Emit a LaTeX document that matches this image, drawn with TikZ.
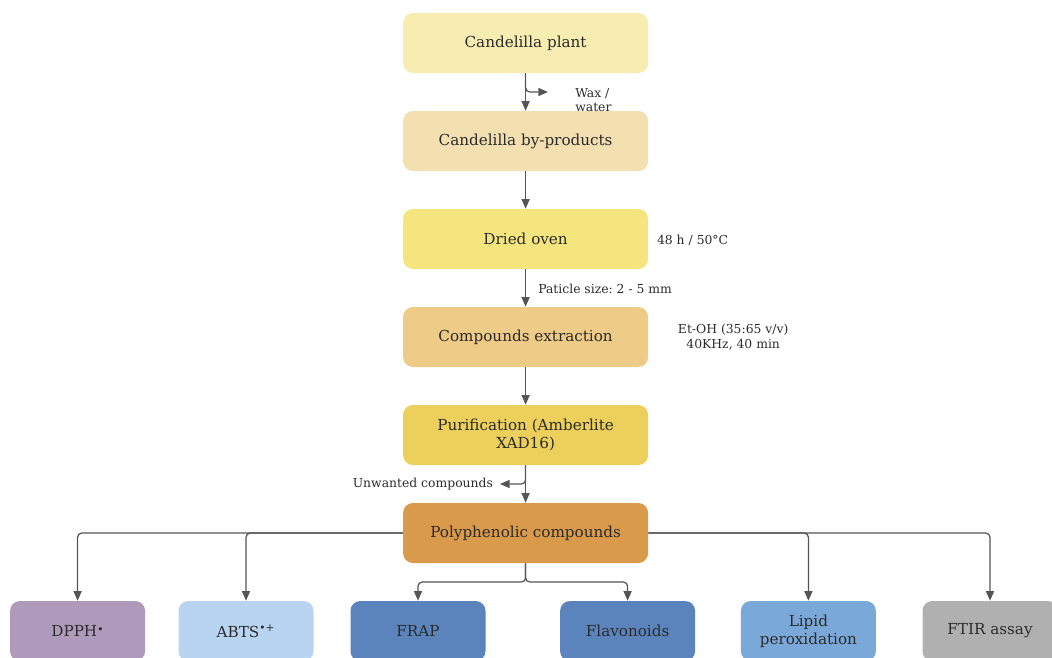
\documentclass[tikz,border=0pt]{standalone}
\usepackage{fontspec}
\setmainfont{DejaVu Serif}
\usepackage{tikz}
\usepackage{xcolor}
\usetikzlibrary{arrows.meta, positioning}
\frenchspacing

\definecolor{plantcol}{HTML}{F7EDB0}
\definecolor{bycol}{HTML}{F3DFB0}
\definecolor{ovencol}{HTML}{F5E57E}
\definecolor{extrcol}{HTML}{EECB86}
\definecolor{purcol}{HTML}{EDCF5C}
\definecolor{polycol}{HTML}{D99A4B}
\definecolor{dpphcol}{HTML}{B09ABB}
\definecolor{abtscol}{HTML}{B8D4F0}
\definecolor{frapcol}{HTML}{5B84BC}
\definecolor{lipidcol}{HTML}{7AA8D8}
\definecolor{ftircol}{HTML}{B0B0B0}
\definecolor{linecol}{HTML}{555555}
\definecolor{textcol}{HTML}{2B2B2B}

\begin{document}
\begin{tikzpicture}[
        >={Triangle[length=2.4mm,width=2mm]},
        % Style for the process boxes in the middle column
        stepbox/.style={rectangle, rounded corners=7pt, draw=none, text=textcol,
            minimum width=6.125cm, minimum height=1.5cm, align=center,
            font=\fontsize{10.8}{13}\selectfont},
        % Style for the assay boxes at the bottom
        assaybox/.style={stepbox, minimum width=3.375cm},
        % Style for the side notes
        note/.style={text=textcol, font=\fontsize{8.8}{10.5}\selectfont, inner sep=0pt},
        % Style for the connectors
        arr/.style={->, draw=linecol, line width=0.9pt, rounded corners=3pt}
    ]
        \useasboundingbox (0,0) rectangle (26.3,-16.425);

        % --- Main column ---
        \node[stepbox, fill=plantcol] (plant) at (13.14, -1.075) {Candelilla plant};
        \node[stepbox, fill=bycol]    (byprod) at (13.14, -3.525) {Candelilla by-products};
        \node[stepbox, fill=ovencol]  (oven) at (13.14, -5.975) {Dried oven};
        \node[stepbox, fill=extrcol]  (extract) at (13.14, -8.425) {Compounds extraction};
        \node[stepbox, fill=purcol]   (purif) at (13.14, -10.875) {Purification (Amberlite\\XAD16)};
        \node[stepbox, fill=polycol]  (poly) at (13.14, -13.325) {Polyphenolic compounds};

        % --- Assays ---
        \node[assaybox, fill=dpphcol]  (dpph) at (1.94, -15.775) {DPPH\raisebox{0.35ex}{\footnotesize\textbullet}};
        \node[assaybox, fill=abtscol]  (abts) at (6.15, -15.775) {ABTS\textsuperscript{\textbullet+}};
        \node[assaybox, fill=frapcol]  (frap) at (10.45, -15.775) {FRAP};
        \node[assaybox, fill=frapcol]  (flav) at (15.69, -15.775) {Flavonoids};
        \node[assaybox, fill=lipidcol] (lipid) at (20.21, -15.775) {Lipid\\peroxidation};
        \node[assaybox, fill=ftircol]  (ftir) at (24.75, -15.775) {FTIR assay};

        % --- Side notes ---
        \node[note, anchor=west, align=left] (wax) at (14.375, -2.5) {Wax /\\water};
        \node[note, anchor=west] (temp) at (16.42, -6.0) {48 h / 50°C};
        \node[note, anchor=west] (size) at (13.45, -7.225) {Paticle size: 2 - 5 mm};
        \node[note, align=center] (solv) at (18.33, -8.43) {Et-OH (35:65 v/v)\\40KHz, 40 min};
        \node[note, anchor=east] (unw) at (12.33, -12.1) {Unwanted compounds};

        % --- Branch points ---
        \coordinate (waxtip) at (13.7, -2.3);
        \coordinate (unwtip) at (12.5, -12.1);
        \coordinate (split) at (13.14, -14.55);

        % --- Main flow ---
        \draw[arr] (plant) -- (byprod);
        \draw[arr] (plant.south) |- (waxtip);
        \draw[arr] (byprod) -- (oven);
        \draw[arr] (oven) -- (extract);
        \draw[arr] (extract) -- (purif);
        \draw[arr] (purif) -- (poly);
        \draw[arr] (purif.south) |- (unwtip);

        % --- Assay branches ---
        \draw[arr] (poly.west) -| (dpph.north);
        \draw[arr] (poly.west) -| (abts.north);
        \draw[arr] (poly.east) -| (ftir.north);
        \draw[arr] (poly.east) -| (lipid.north);
        \draw[arr] (poly.south) -- (split) -| (frap.north);
        \draw[arr] (poly.south) -- (split) -| (flav.north);

    \end{tikzpicture}
\end{document}
